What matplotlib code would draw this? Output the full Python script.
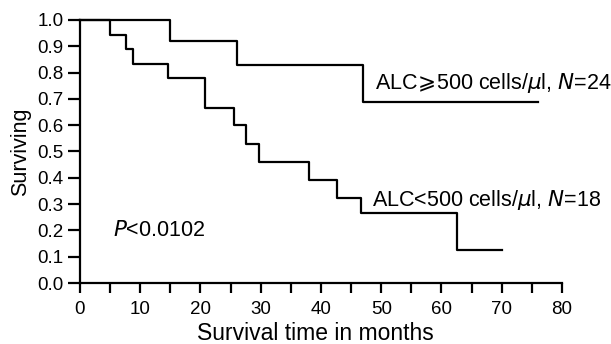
import matplotlib
matplotlib.use("Agg")
import matplotlib.pyplot as plt

# Kaplan-Meier step data (time in months, survival fraction)
high_t = [0, 15, 26, 47, 76]
high_s = [1.0, 0.92, 0.83, 0.69, 0.69]
low_t = [0, 5, 7.7, 8.8, 14.6, 20.7, 25.5, 27.6, 29.7, 38, 42.7, 46.7, 62.6, 70]
low_s = [1.0, 0.944, 0.889, 0.833, 0.778, 0.667, 0.60, 0.53, 0.46, 0.39, 0.325, 0.265, 0.125, 0.125]

x_ticks = list(range(0, 81, 10))
y_ticks = [i / 10 for i in range(11)]

FAM = ['Liberation Sans', 'DejaVu Sans']
plt.rcParams['font.family'] = FAM
fig = plt.figure(figsize=(6.11, 3.44), dpi=100)
ax = fig.add_axes([0.1309, 0.1773, 0.9198 - 0.1309, 0.9419 - 0.1773])

ax.step(high_t, high_s, where='post', color='black', lw=1.6, clip_on=False)
ax.step(low_t, low_s, where='post', color='black', lw=1.6, clip_on=False)

ax.set_xlim(0, 80)
ax.set_ylim(0, 1.0)
ax.set_xticks(x_ticks)
ax.set_xticks(range(5, 80, 10), minor=True)
ax.set_yticks(y_ticks)
ax.set_yticklabels([f"{v:.1f}" for v in y_ticks])
ax.tick_params(axis='both', which='both', direction='out', width=1.6, labelsize=13.5, colors='black')
ax.tick_params(axis='y', length=8.5, pad=3.5)
ax.tick_params(axis='x', which='both', length=7, pad=6)
for s in ['top', 'right']:
    ax.spines[s].set_visible(False)
for s in ['left', 'bottom']:
    ax.spines[s].set_linewidth(1.6)

ax.set_xlabel('Survival time in months', fontsize=16.5, labelpad=3)
ax.xaxis.label.set_x(0.488)
ax.set_ylabel('Surviving', fontsize=15.5, labelpad=4)

ax.text(48.9, 0.76, 'ALC$\\!\\geqslant\\!$500 cells/$\\mu$l, $N$=24', fontsize=15.5, va='center', ha='left')
ax.text(48.4, 0.316, 'ALC<500 cells/$\\mu$l, $N$=18', fontsize=15.5, va='center', ha='left')
ax.text(5.5, 0.20, '$P$<0.0102', fontsize=15.5, va='center', ha='left')

fig.savefig('out.png', dpi=100)
